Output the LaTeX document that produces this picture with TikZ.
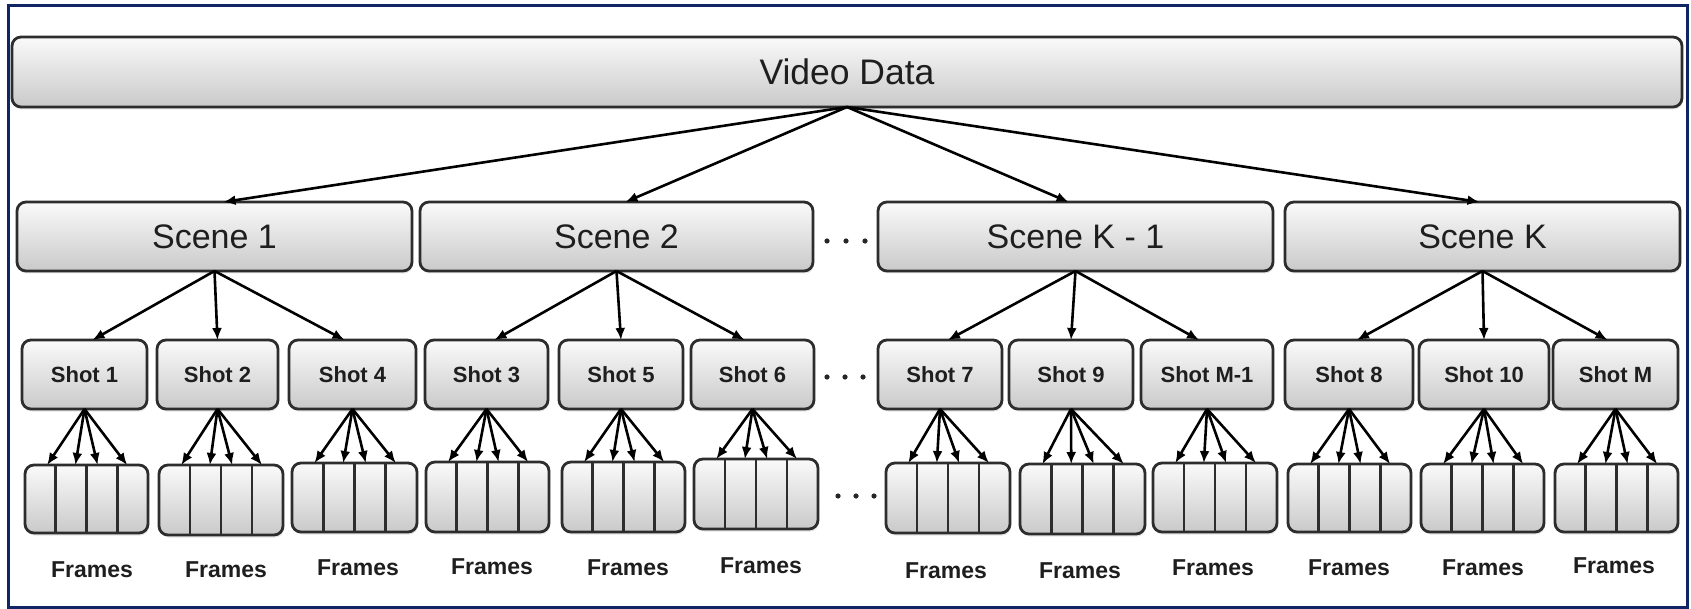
\documentclass[tikz,border=0pt]{standalone}
\usepackage{fontspec}
\setmainfont{Liberation Sans}
\usetikzlibrary{arrows.meta,calc,shadows}
\definecolor{navy}{RGB}{16,38,100}
\definecolor{boxline}{RGB}{45,45,45}
\definecolor{txt}{RGB}{30,30,30}
\tikzset{
 gbox/.style={draw=boxline, line width=2.8pt, rounded corners=9pt, top color=gray!4, bottom color=gray!42, inner sep=0pt, outer sep=0pt, text=txt, drop shadow={shadow xshift=1pt, shadow yshift=-2.5pt, opacity=0.2}},
 vidbox/.style={gbox, font=\fontsize{35.5}{42}\selectfont},
 scenebox/.style={gbox, font=\fontsize{34}{40}\selectfont},
 shotbox/.style={gbox, font=\bfseries\fontsize{22}{26}\selectfont},
 framebox/.style={gbox},
 framelabel/.style={font=\bfseries\fontsize{23}{28}\selectfont, text=txt, inner sep=0pt},
 conn/.style={line width=2.6pt, -{Latex[length=12pt,width=10pt]}},
 dotmark/.style={fill=black!85},
 divider/.style={draw=boxline, line width=2.8pt},
}
\newcommand\rbox[7]{\node[#1, minimum width={(#4-#3)*1pt}, minimum height={(#6-#5)*1pt}] (#2) at ({(#3+#4)/2},{(#5+#6)/2}) {#7};}
\begin{document}
\begin{tikzpicture}[x=1pt,y=-1pt]
\path[use as bounding box, fill=white] (0,0) rectangle (1691,609);
\draw[navy, line width=3pt] (8,6) rectangle (1687,607);
% top
\rbox{vidbox}{vd}{12}{1682}{37}{107}{Video Data}
% scenes
\rbox{scenebox}{sc1}{17}{412}{202}{271}{Scene 1}
\rbox{scenebox}{sc2}{420}{813}{202}{271}{Scene 2}
\rbox{scenebox}{sc3}{878}{1273}{202}{271}{Scene K - 1}
\rbox{scenebox}{sc4}{1285}{1680}{202}{271}{Scene K}
% shots
\rbox{shotbox}{sh1}{22}{147}{340}{409}{Shot 1}
\rbox{shotbox}{sh2}{157}{278}{340}{409}{Shot 2}
\rbox{shotbox}{sh3}{289}{416}{340}{409}{Shot 4}
\rbox{shotbox}{sh4}{425}{548}{340}{409}{Shot 3}
\rbox{shotbox}{sh5}{559}{683}{340}{409}{Shot 5}
\rbox{shotbox}{sh6}{691}{814}{340}{409}{Shot 6}
\rbox{shotbox}{sh7}{878}{1002}{340}{409}{Shot 7}
\rbox{shotbox}{sh8}{1009}{1133}{340}{409}{Shot 9}
\rbox{shotbox}{sh9}{1141}{1273}{340}{409}{Shot M-1}
\rbox{shotbox}{sh10}{1285}{1413}{340}{409}{Shot 8}
\rbox{shotbox}{sh11}{1419}{1549}{340}{409}{Shot 10}
\rbox{shotbox}{sh12}{1553}{1678}{340}{409}{Shot M}
% frames
\rbox{framebox}{f1}{25}{148}{465}{533}{}
\rbox{framebox}{f2}{159}{283}{465}{535}{}
\rbox{framebox}{f3}{292}{417}{463}{532}{}
\rbox{framebox}{f4}{426}{549}{462}{532}{}
\rbox{framebox}{f5}{562}{685}{462}{532}{}
\rbox{framebox}{f6}{694}{818}{459}{529}{}
\rbox{framebox}{f7}{886}{1010}{463}{533}{}
\rbox{framebox}{f8}{1020}{1145}{464}{534}{}
\rbox{framebox}{f9}{1153}{1277}{463}{532}{}
\rbox{framebox}{f10}{1288}{1411}{464}{532}{}
\rbox{framebox}{f11}{1421}{1544}{464}{532}{}
\rbox{framebox}{f12}{1555}{1678}{464}{532}{}
\foreach \f in {f1,f2,f3,f4,f5,f6,f7,f8,f9,f10,f11,f12}{
  \foreach \t in {0.25,0.5,0.75}{
    \draw[divider] ($(\f.north west)!\t!(\f.north east)$) -- ($(\f.south west)!\t!(\f.south east)$);
  }
}
% frame labels
\foreach \n/\x/\y in {l1/92/570, l2/226/570, l3/358/568, l4/492/567, l5/628/568, l6/761/566, l7/946/571, l8/1080/571, l9/1213/568, l10/1349/568, l11/1483/568, l12/1614/566}{
  \node[framelabel] (\n) at (\x,\y) {Frames};
}
% video -> scenes
\draw[conn] (vd.south) -- ([xshift=9pt]sc1.north);
\draw[conn] (vd.south) -- ([xshift=9pt]sc2.north);
\draw[conn] (vd.south) -- ([xshift=-7pt]sc3.north);
\draw[conn] (vd.south) -- ([xshift=-3pt]sc4.north);
% scenes -> shots
\foreach \s/\a/\b/\c in {sc1/sh1/sh2/sh3, sc2/sh4/sh5/sh6, sc3/sh7/sh8/sh9, sc4/sh10/sh11/sh12}{
  \draw[conn] (\s.south) -- ([xshift=8pt]\a.north);
  \draw[conn] (\s.south) -- (\b.north);
  \draw[conn] (\s.south) -- ([xshift=-8pt]\c.north);
}
% shots -> frames
\foreach \s/\f in {sh1/f1, sh2/f2, sh3/f3, sh4/f4, sh5/f5, sh6/f6, sh7/f7, sh8/f8, sh9/f9, sh10/f10, sh11/f11, sh12/f12}{
  \foreach \t in {0.18,0.41,0.59,0.83}{
    \draw[conn] (\s.south) -- ($(\f.north west)!\t!(\f.north east)$);
  }
}
% ellipsis dots
\foreach \x in {827,846,865}{ \fill[dotmark] (\x,241) circle (2.6pt); }
\foreach \x in {827,845,863}{ \fill[dotmark] (\x,377) circle (2.6pt); }
\foreach \x in {838,856,874}{ \fill[dotmark] (\x,496) circle (2.6pt); }
\end{tikzpicture}
\end{document}
